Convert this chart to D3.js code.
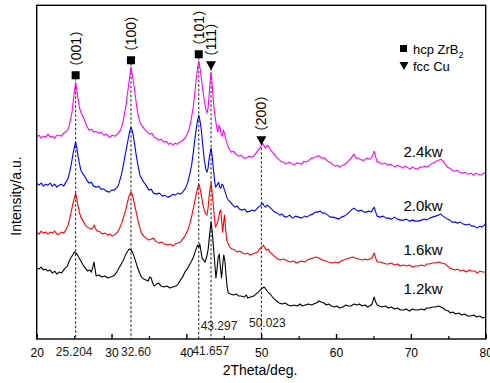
<!DOCTYPE html>
<html>
<head>
<meta charset="utf-8">
<script src="https://cdn.jsdelivr.net/npm/d3@7"></script>
<style>
  body { margin: 0; background: #fff; }
  svg { display: block; }
  text { font-family: "Liberation Sans", Arial, sans-serif; fill: #000; }
</style>
</head>
<body>
<svg id="chart"></svg>
<script>
// XRD patterns, [2theta, intensity a.u.], already stacked
const pattern12 = [
  [20, 71], [20.3, 70], [20.6, 72], [20.9, 69], [21.2, 70], [21.5, 68], [21.8, 69], [22.1, 66],
  [22.4, 68], [22.7, 65], [23, 67], [23.3, 66], [23.6, 69], [23.8, 71], [24.1, 73], [24.3, 77],
  [24.55, 81], [24.8, 84], [25, 87], [25.2, 86], [25.4, 85], [25.6, 82], [25.9, 78], [26.2, 74],
  [26.5, 71], [26.8, 68], [27.1, 69], [27.3, 67], [27.5, 72], [27.65, 77], [27.8, 70], [27.95, 63],
  [28.3, 64], [28.7, 62], [29.1, 63], [29.5, 61], [29.9, 62], [30.2, 63], [30.4, 64], [30.7, 67],
  [31, 71], [31.3, 75], [31.6, 79], [31.85, 84], [32.1, 87], [32.35, 90], [32.6, 89], [32.8, 87],
  [33, 83], [33.25, 77], [33.5, 71], [33.75, 66], [34, 62], [34.3, 60], [34.6, 59], [34.9, 58],
  [35.1, 62], [35.3, 61], [35.5, 56], [35.7, 53], [36, 55], [36.3, 56], [36.6, 53], [37, 52],
  [37.4, 53], [37.8, 51], [38.2, 52], [38.6, 53], [38.9, 55], [39.2, 59], [39.5, 62], [39.8, 67],
  [40.1, 70], [40.4, 74], [40.7, 78], [41, 83], [41.25, 89], [41.5, 94], [41.65, 92], [41.8, 95],
  [41.95, 88], [42.1, 81], [42.3, 79], [42.5, 77], [42.7, 82], [42.9, 89], [43.1, 104], [43.3, 117],
  [43.45, 108], [43.6, 94], [43.8, 75], [43.95, 61], [44.1, 70], [44.25, 82], [44.4, 85],
  [44.55, 72], [44.7, 61], [44.85, 74], [45, 84], [45.15, 78], [45.3, 64], [45.45, 52], [45.6, 46],
  [45.9, 45], [46.3, 44], [46.7, 45], [47, 43], [47.3, 43], [47.7, 42], [48, 44], [48.2, 41],
  [48.6, 42], [49, 43], [49.3, 45], [49.6, 47], [50, 50], [50.4, 52], [50.6, 50], [50.9, 47],
  [51.2, 45], [51.5, 42], [51.9, 39], [52.4, 36], [52.8, 35], [53.2, 36], [53.6, 34], [54, 33],
  [54.4, 34], [54.8, 33], [55.2, 35], [55.5, 33], [55.9, 34], [56.3, 35], [56.7, 34], [57, 35],
  [57.4, 36], [57.7, 38], [58, 37], [58.4, 36], [58.7, 34], [59, 35], [59.4, 33], [59.8, 32],
  [60.1, 33], [60.5, 31], [60.9, 32], [61.3, 34], [61.6, 33], [62, 33], [62.4, 35], [62.8, 34],
  [63.1, 35], [63.5, 33], [63.9, 34], [64.2, 32], [64.5, 33], [64.8, 35], [65.1, 42], [65.3, 37],
  [65.5, 34], [65.8, 33], [66.2, 32], [66.6, 33], [67, 31], [67.4, 32], [67.8, 30], [68.2, 31],
  [68.6, 29], [69, 29], [69.4, 30], [69.8, 28], [70.2, 30], [70.6, 29], [71, 29], [71.4, 30],
  [71.8, 29], [72.1, 31], [72.5, 31], [72.9, 32], [73.3, 32], [73.7, 33], [74, 32], [74.3, 31],
  [74.6, 29], [75, 28], [75.3, 26], [75.6, 27], [76, 25], [76.4, 26], [76.8, 24], [77.2, 25],
  [77.6, 23], [78, 23], [78.4, 24], [78.8, 22], [79.2, 23], [79.6, 21], [80, 22]
]

const pattern16 = [
  [20, 107], [20.3, 105], [20.6, 108], [20.9, 106], [21.2, 107], [21.5, 105], [21.8, 107],
  [22.1, 106], [22.4, 108], [22.7, 105], [23, 105], [23.3, 107], [23.6, 106], [23.9, 109],
  [24.2, 114], [24.4, 120], [24.6, 127], [24.8, 134], [24.95, 139], [25.2, 146], [25.35, 140],
  [25.5, 134], [25.7, 127], [25.9, 122], [26.2, 118], [26.5, 114], [26.8, 112], [27.2, 110],
  [27.5, 111], [27.7, 114], [27.9, 110], [28.1, 108], [28.5, 107], [28.8, 105], [29.1, 106],
  [29.5, 104], [29.8, 105], [30.1, 103], [30.5, 105], [30.8, 107], [31.1, 111], [31.4, 117],
  [31.65, 123], [31.9, 129], [32.1, 136], [32.3, 142], [32.45, 145], [32.6, 147], [32.75, 145],
  [32.9, 141], [33.1, 134], [33.3, 127], [33.55, 118], [33.8, 111], [34, 106], [34.3, 103],
  [34.6, 101], [35, 99], [35.3, 100], [35.6, 101], [35.9, 98], [36.3, 96], [36.7, 97], [37.1, 95],
  [37.5, 94], [37.9, 95], [38.2, 93], [38.5, 95], [38.9, 96], [39.2, 97], [39.4, 99], [39.8, 103],
  [40.2, 109], [40.5, 116], [40.8, 126], [41.05, 135], [41.3, 144], [41.5, 151], [41.66, 155],
  [41.85, 150], [42, 144], [42.2, 135], [42.4, 129], [42.6, 125], [42.75, 124], [42.9, 131],
  [43.1, 147], [43.3, 156], [43.45, 146], [43.6, 134], [43.75, 121], [43.9, 112], [44.1, 115],
  [44.3, 121], [44.45, 127], [44.6, 129], [44.72, 118], [44.85, 107], [44.97, 116], [45.1, 124],
  [45.25, 110], [45.4, 99], [45.6, 95], [45.8, 92], [46.1, 90], [46.5, 89], [46.8, 87], [47.1, 88],
  [47.5, 86], [47.9, 85], [48.2, 86], [48.5, 84], [48.9, 85], [49.2, 86], [49.5, 87], [49.9, 91],
  [50.3, 94], [50.5, 91], [50.7, 89], [50.9, 90], [51.2, 87], [51.6, 84], [51.9, 82], [52.2, 80],
  [52.6, 79], [53, 80], [53.5, 78], [53.9, 77], [54.3, 78], [54.7, 76], [55, 77], [55.4, 78],
  [55.8, 77], [56.1, 79], [56.5, 80], [56.9, 81], [57.3, 82], [57.7, 81], [58.2, 79], [58.6, 78],
  [59, 77], [59.5, 76], [59.9, 77], [60.3, 76], [60.7, 78], [61, 79], [61.4, 80], [61.8, 81],
  [62.2, 82], [62.6, 81], [63, 80], [63.5, 79], [63.9, 80], [64.2, 79], [64.5, 80], [64.8, 81],
  [65.1, 86], [65.3, 81], [65.5, 77], [65.9, 77], [66.3, 76], [66.7, 75], [67, 75], [67.4, 76],
  [67.8, 74], [68.2, 75], [68.6, 73], [69, 74], [69.4, 73], [69.8, 74], [70.2, 72], [70.6, 73],
  [71, 73], [71.4, 74], [71.8, 73], [72.1, 75], [72.5, 75], [72.9, 76], [73.3, 76], [73.7, 77],
  [74.1, 76], [74.6, 75], [74.9, 73], [75.2, 71], [75.5, 70], [75.9, 69], [76.3, 70], [76.6, 68],
  [77, 69], [77.4, 67], [77.8, 69], [78.1, 68], [78.5, 68], [78.9, 66], [79.2, 68], [79.6, 67],
  [80, 67]
]

const pattern20 = [
  [20, 156], [20.3, 154], [20.6, 156], [20.9, 153], [21.2, 155], [21.5, 154], [21.8, 156],
  [22.1, 153], [22.4, 155], [22.7, 152], [23, 154], [23.3, 155], [23.6, 153], [23.9, 157],
  [24.2, 161], [24.4, 167], [24.6, 174], [24.8, 183], [24.95, 189], [25.2, 197], [25.35, 192],
  [25.5, 184], [25.7, 176], [25.9, 169], [26.1, 166], [26.4, 163], [26.7, 159], [27, 156],
  [27.3, 157], [27.6, 153], [28, 152], [28.3, 153], [28.6, 150], [29, 150], [29.3, 148],
  [29.7, 147], [30, 149], [30.4, 149], [30.6, 151], [30.8, 152], [31, 156], [31.3, 164],
  [31.5, 171], [31.7, 179], [31.95, 189], [32.2, 199], [32.4, 207], [32.6, 212], [32.75, 209],
  [32.9, 204], [33.1, 194], [33.3, 184], [33.55, 173], [33.8, 164], [34, 161], [34.3, 157],
  [34.6, 154], [35, 149], [35.3, 150], [35.6, 146], [36, 145], [36.4, 146], [36.8, 143],
  [37.1, 144], [37.5, 142], [37.9, 143], [38.2, 145], [38.5, 144], [38.9, 146], [39.2, 145],
  [39.5, 147], [39.9, 151], [40.2, 157], [40.45, 165], [40.7, 174], [40.95, 188], [41.2, 204],
  [41.45, 217], [41.66, 224], [41.85, 217], [42, 209], [42.2, 193], [42.4, 179], [42.6, 170],
  [42.75, 167], [42.9, 171], [43.05, 181], [43.3, 191], [43.45, 183], [43.6, 171], [43.75, 160],
  [43.9, 152], [44.1, 154], [44.3, 157], [44.45, 152], [44.6, 151], [44.75, 155], [44.9, 154],
  [45.05, 150], [45.2, 147], [45.4, 142], [45.6, 139], [45.9, 137], [46.2, 134], [46.5, 132],
  [46.8, 133], [47.1, 130], [47.5, 129], [47.8, 130], [48.1, 127], [48.5, 128], [48.8, 129],
  [49.1, 128], [49.5, 131], [49.8, 133], [50.2, 136], [50.4, 133], [50.6, 132], [50.8, 134],
  [51, 133], [51.4, 130], [51.8, 127], [52.1, 126], [52.5, 124], [52.8, 125], [53, 123],
  [53.4, 122], [53.8, 124], [54.2, 121], [54.6, 123], [55, 122], [55.4, 121], [55.8, 123],
  [56.1, 122], [56.5, 124], [56.9, 125], [57.2, 127], [57.5, 127], [57.9, 128], [58.2, 126],
  [58.5, 126], [58.9, 124], [59.2, 122], [59.6, 122], [60, 121], [60.4, 120], [60.7, 122],
  [61.1, 123], [61.5, 125], [61.9, 128], [62.2, 130], [62.4, 131], [62.7, 129], [63, 128],
  [63.4, 129], [63.7, 127], [64, 127], [64.4, 128], [64.7, 127], [65.1, 132], [65.3, 127],
  [65.5, 123], [65.9, 122], [66.3, 123], [66.7, 121], [67, 121], [67.4, 120], [67.8, 122],
  [68.2, 120], [68.6, 119], [69, 119], [69.4, 120], [69.8, 118], [70.2, 119], [70.6, 118],
  [71, 118], [71.4, 119], [71.8, 120], [72.1, 119], [72.5, 121], [72.9, 122], [73.3, 123],
  [73.7, 124], [74, 125], [74.3, 123], [74.5, 122], [74.9, 120], [75.2, 119], [75.5, 117],
  [75.9, 117], [76.3, 116], [76.6, 117], [77, 115], [77.4, 114], [77.8, 115], [78.1, 113],
  [78.5, 113], [78.9, 111], [79.2, 113], [79.5, 112], [79.8, 114], [80, 116]
]

const pattern24 = [
  [20, 202], [20.3, 204], [20.6, 201], [20.9, 203], [21.2, 202], [21.5, 205], [21.8, 202],
  [22.1, 203], [22.4, 201], [22.7, 204], [23, 204], [23.3, 203], [23.6, 206], [24, 208],
  [24.3, 212], [24.5, 219], [24.7, 226], [24.9, 239], [25.05, 248], [25.2, 257], [25.35, 250],
  [25.5, 242], [25.7, 232], [25.9, 227], [26.1, 224], [26.4, 219], [26.7, 213], [27, 209],
  [27.3, 210], [27.6, 207], [27.9, 208], [28.3, 206], [28.6, 207], [29, 204], [29.3, 205],
  [29.7, 202], [30.1, 204], [30.5, 203], [30.9, 206], [31.2, 209], [31.5, 216], [31.7, 224],
  [31.9, 232], [32.1, 244], [32.35, 258], [32.6, 272], [32.8, 263], [33, 254], [33.2, 242],
  [33.4, 231], [33.6, 222], [33.8, 217], [34.1, 213], [34.5, 209], [34.8, 207], [35.1, 205],
  [35.4, 206], [35.7, 202], [36, 201], [36.3, 199], [36.6, 200], [37, 197], [37.3, 198],
  [37.6, 195], [37.9, 196], [38.2, 194], [38.5, 196], [38.8, 195], [39.1, 197], [39.4, 198],
  [39.8, 201], [40.1, 205], [40.4, 211], [40.65, 220], [40.9, 231], [41.1, 244], [41.3, 259],
  [41.5, 271], [41.66, 278], [41.85, 270], [42, 261], [42.2, 249], [42.4, 239], [42.6, 230],
  [42.75, 226], [42.9, 231], [43.05, 245], [43.2, 260], [43.3, 267], [43.45, 255], [43.6, 239],
  [43.75, 228], [43.9, 219], [44.05, 212], [44.2, 207], [44.35, 214], [44.5, 212], [44.65, 205],
  [44.8, 203], [44.95, 209], [45.1, 206], [45.3, 199], [45.5, 194], [45.75, 190], [46, 187],
  [46.3, 188], [46.6, 185], [47, 183], [47.3, 184], [47.7, 181], [48, 181], [48.4, 183],
  [48.7, 182], [49, 183], [49.3, 186], [49.6, 189], [49.9, 192], [50.2, 196], [50.4, 193],
  [50.6, 191], [50.8, 194], [51, 193], [51.25, 189], [51.5, 187], [51.75, 185], [52, 182],
  [52.3, 180], [52.6, 178], [53, 177], [53.3, 175], [53.7, 177], [54, 176], [54.4, 174],
  [54.7, 176], [55, 176], [55.4, 175], [55.7, 178], [56, 177], [56.4, 179], [56.7, 181],
  [57, 181], [57.4, 183], [57.8, 183], [58.1, 181], [58.5, 181], [58.9, 178], [59.2, 177],
  [59.5, 175], [59.9, 173], [60.2, 174], [60.5, 172], [60.9, 174], [61.2, 175], [61.5, 177],
  [61.9, 180], [62.2, 183], [62.4, 185], [62.7, 181], [63, 181], [63.4, 179], [63.8, 179],
  [64.1, 181], [64.5, 180], [64.8, 182], [65.1, 188], [65.3, 182], [65.5, 177], [65.8, 177],
  [66.1, 175], [66.5, 176], [66.9, 174], [67.2, 175], [67.5, 174], [67.9, 172], [68.2, 174],
  [68.5, 173], [68.9, 171], [69.2, 173], [69.5, 172], [69.9, 170], [70.2, 172], [70.5, 171],
  [70.9, 170], [71.2, 172], [71.5, 172], [71.9, 173], [72.2, 172], [72.5, 174], [72.9, 176],
  [73.2, 177], [73.4, 178], [73.7, 179], [74, 180], [74.3, 178], [74.6, 175], [74.9, 172],
  [75.2, 171], [75.5, 169], [75.9, 168], [76.2, 169], [76.5, 167], [76.9, 166], [77.2, 167],
  [77.6, 165], [78, 166], [78.4, 164], [78.7, 166], [79, 165], [79.4, 164], [79.7, 166], [80, 166]
]

const powers = ['1.2kw', '1.6kw', '2.0kw', '2.4kw']
const colors = ['#000000', '#ff0000', '#0000ff', '#ff00ff']

const majorTicks = [20, 30, 40, 50, 60, 70, 80]
const minorTicks = [25, 35, 45, 55, 65, 75]

const peakLabels = ['（001）', '（100）', '（101）', '（111）', '（200）']
const peakPositions = [25.204, 32.6, 41.657, 43.297, 50.023]
const peakPhases = ['hcp', 'hcp', 'hcp', 'fcc', 'fcc']
const positionLabels = ['25.204', '32.60', '41.657', '43.297', '50.023']

const w = 490
const h = 383
const plotLeft = 36.7
const plotRight = 485.7
const plotTop = 5.3
const plotBottom = 339

main()

function main() {
  const svg = d3.select('#chart').attr('width', w).attr('height', h)

  const x = d3.scaleLinear().domain([20, 80]).range([plotLeft, plotRight])
  const y = d3.scaleLinear().domain([0, 334]).range([plotBottom, plotTop])

  const series = [pattern12, pattern16, pattern20, pattern24].map((data, i) => ({
    name: powers[i],
    color: colors[i],
    data
  }))

  const line = d3
    .line()
    .x((d) => x(d[0]))
    .y((d) => y(d[1]))

  // top of the 2.4kw trace nearest a peak position
  const top24 = (pos) => {
    const near = pattern24.reduce((a, b) =>
      Math.abs(b[0] - pos) < Math.abs(a[0] - pos) ? b : a
    )
    return y(near[1])
  }

  // dashed guides, drawn under the curves
  svg
    .append('g')
    .selectAll('line')
    .data(peakPositions)
    .join('line')
    .attr('x1', (d) => x(d))
    .attr('x2', (d) => x(d))
    .attr('y1', (d) => top24(d) - 4)
    .attr('y2', plotBottom)
    .attr('stroke', '#000')
    .attr('stroke-width', 0.9)
    .attr('stroke-dasharray', '2.5,2')

  svg
    .append('g')
    .selectAll('path')
    .data(series)
    .join('path')
    .attr('d', (d) => line(d.data))
    .attr('fill', 'none')
    .attr('stroke', (d) => d.color)
    .attr('stroke-width', 1.1)
    .attr('stroke-linejoin', 'round')

  // series labels
  const labelDy = [-16, -11, -10, -10]
  svg
    .append('g')
    .selectAll('text')
    .data(series)
    .join('text')
    .attr('x', x(69))
    .attr('y', (d, i) => {
      const p = d.data.find((v) => v[0] >= 71)
      return y(p[1]) + labelDy[i]
    })
    .style('font-size', '15px')
    .text((d) => d.name)

  // peak markers
  const markers = svg.append('g')
  peakPositions.forEach((pos, i) => {
    const cx = x(pos)
    const cy = top24(pos) - 7
    if (peakPhases[i] === 'hcp') {
      markers
        .append('rect')
        .attr('x', cx - 4)
        .attr('y', cy - 4)
        .attr('width', 8)
        .attr('height', 8)
        .attr('fill', '#000')
    } else {
      markers
        .append('path')
        .attr('d', `M${cx - 5},${cy - 4}L${cx + 5},${cy - 4}L${cx},${cy + 5}Z`)
        .attr('fill', '#000')
    }
    markers
      .append('text')
      .attr('transform', `translate(${cx},${cy - 1}) rotate(-90)`)
      .attr('dy', '0.36em')
      .style('font-size', '14px')
      .style('font-family', '"Liberation Sans", "Noto Sans CJK SC", sans-serif')
      .text(peakLabels[i])
  })

  // frame
  svg
    .append('rect')
    .attr('x', plotLeft)
    .attr('y', plotTop)
    .attr('width', plotRight - plotLeft)
    .attr('height', plotBottom - plotTop)
    .attr('fill', 'none')
    .attr('stroke', '#000')
    .attr('stroke-width', 1.4)

  const xAxis = svg
    .append('g')
    .attr('transform', `translate(0,${plotBottom})`)
    .call(
      d3.axisBottom(x).tickValues(majorTicks).tickSize(-5).tickPadding(9).tickFormat(d3.format('d'))
    )
  xAxis.select('.domain').remove()
  xAxis.selectAll('line').attr('stroke-width', 1.4)
  xAxis.selectAll('text').style('font-size', '12px').style('font-family', '"Liberation Sans", Arial, sans-serif')

  const xMinor = svg
    .append('g')
    .attr('transform', `translate(0,${plotBottom})`)
    .call(d3.axisBottom(x).tickValues(minorTicks).tickSize(-3).tickFormat(''))
  xMinor.select('.domain').remove()
  xMinor.selectAll('line').attr('stroke-width', 1.2)

  // 2theta value labels
  const posDx = [-1.5, 5, 12, 8, 6]
  const posY = [356, 356, 355, 330, 327]
  svg
    .append('g')
    .selectAll('text')
    .data(positionLabels)
    .join('text')
    .attr('x', (d, i) => x(peakPositions[i]) + posDx[i])
    .attr('y', (d, i) => posY[i])
    .attr('text-anchor', 'middle')
    .style('font-size', '12px')
    .style('fill', '#222')
    .text((d) => d)

  // legend
  const legend = svg.append('g').attr('transform', 'translate(404,0)')
  legend.append('rect').attr('x', -4).attr('y', 45).attr('width', 7).attr('height', 7).attr('fill', '#000')
  const t1 = legend.append('text').attr('x', 9).attr('y', 53.5).style('font-size', '13px')
  t1.append('tspan').text('hcp ZrB')
  t1.append('tspan').attr('dy', 4).style('font-size', '9px').text('2')
  legend.append('path').attr('d', 'M-4.5,62L4.5,62L0,70Z').attr('fill', '#000')
  legend.append('text').attr('x', 9).attr('y', 70.5).style('font-size', '13px').text('fcc Cu')

  // axis titles
  svg
    .append('text')
    .attr('x', 260)
    .attr('y', 375)
    .attr('text-anchor', 'middle')
    .style('font-size', '14px')
    .text('2Theta/deg.')

  svg
    .append('text')
    .attr('transform', 'translate(21,196) rotate(-90)')
    .attr('text-anchor', 'middle')
    .style('font-size', '14px')
    .text('Intensity/a.u.')
}
</script>
</body>
</html>
